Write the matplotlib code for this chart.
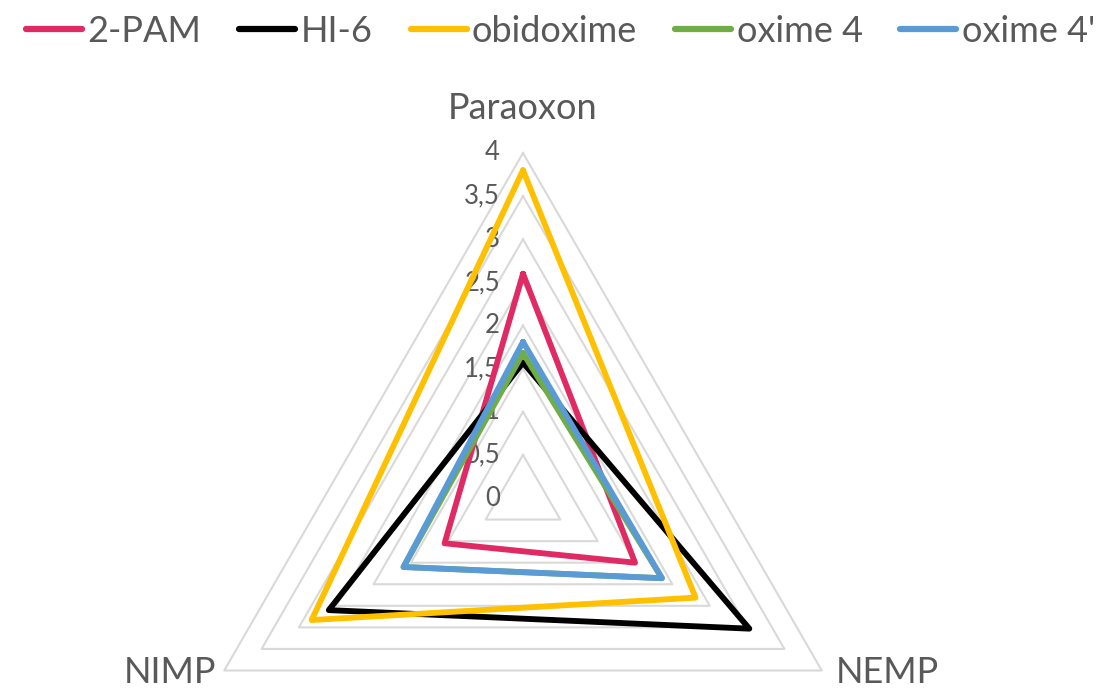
import numpy as np
import matplotlib
matplotlib.use("Agg")
import matplotlib.pyplot as plt

# ---------------------------------------------------------
# Donnees
# ---------------------------------------------------------
categories = ["Paraoxon", "NEMP", "NIMP"]
series_names = ["2-PAM", "HI-6", "obidoxime", "oxime 4", "oxime 4'"]
pam2 = [2.6, 1.5, 1.05]
hi6 = [1.57, 3.03, 2.6]
obidoxime = [3.8, 2.31, 2.83]
oxime4 = [1.68, 1.86, 1.6]
oxime4p = [1.81, 1.86, 1.6]
grid_levels = [0.5, 1, 1.5, 2, 2.5, 3, 3.5, 4]
tick_labels = ["0", "0,5", "1", "1,5", "2", "2,5", "3", "3,5", "4"]

colors = ["#DF2A63", "#000000", "#FFC000", "#70AD47", "#5B9BD5"]
text_color = "#595959"
grid_color = "#D9D9D9"

plt.rcParams["font.family"] = ["Lato", "DejaVu Sans"]

W, H = 1112, 689
fig = plt.figure(figsize=(W / 100, H / 100), dpi=100)

# centre du radar (523, 498) px, rayon 345 px pour r = 4
cx, cy, R = 523, 498, 345
ax = fig.add_axes([(cx - R) / W, (H - cy - R) / H, 2 * R / W, 2 * R / H],
                  projection="polar")
ax.set_theta_offset(np.pi / 2)
ax.set_theta_direction(-1)
ax.set_ylim(0, 4)
ax.grid(False)
ax.spines["polar"].set_visible(False)
ax.set_xticks([])
ax.set_yticks([])
ax.patch.set_alpha(0)

theta = np.linspace(0, 2 * np.pi, len(categories), endpoint=False)
theta_closed = np.append(theta, theta[0])

# grille triangulaire
for lvl in grid_levels:
    ax.plot(theta_closed, [lvl] * (len(categories) + 1), color=grid_color,
            lw=1.5, zorder=1, clip_on=False)

# series
all_series = [pam2, hi6, obidoxime, oxime4, oxime4p]
for name, vals, col in zip(series_names, all_series, colors):
    ax.plot(theta_closed, vals + vals[:1], color=col, lw=4.2, label=name,
            solid_joinstyle="round", solid_capstyle="round", zorder=3, clip_on=False)

# etiquettes de l'axe radial
for i, lab in enumerate(tick_labels):
    ax.annotate(lab, xy=(0, i * 0.5), xytext=(-16.5, 0), textcoords="offset points",
                ha="right", va="center", fontsize=18.5, color=text_color, zorder=2)

# etiquettes des categories
offsets = [(0, 32), (47, -1.5), (-39, -1.5)]
for th, cat, off in zip(theta, categories, offsets):
    ax.annotate(cat, xy=(th, 4), xytext=off, textcoords="offset points",
                ha="center", va="center", fontsize=26, color=text_color,
                annotation_clip=False)

leg = fig.legend(loc="upper left", bbox_to_anchor=(0.004, 1.01), ncol=5,
                 frameon=False, fontsize=26, handlelength=1.55, handletextpad=0.15,
                 columnspacing=1.05, borderaxespad=0.2)
for t in leg.get_texts():
    t.set_color(text_color)
for h in leg.legend_handles:
    h.set_linewidth(4.5)
    h.set_solid_capstyle("round")

fig.savefig("out.png", dpi=100)
